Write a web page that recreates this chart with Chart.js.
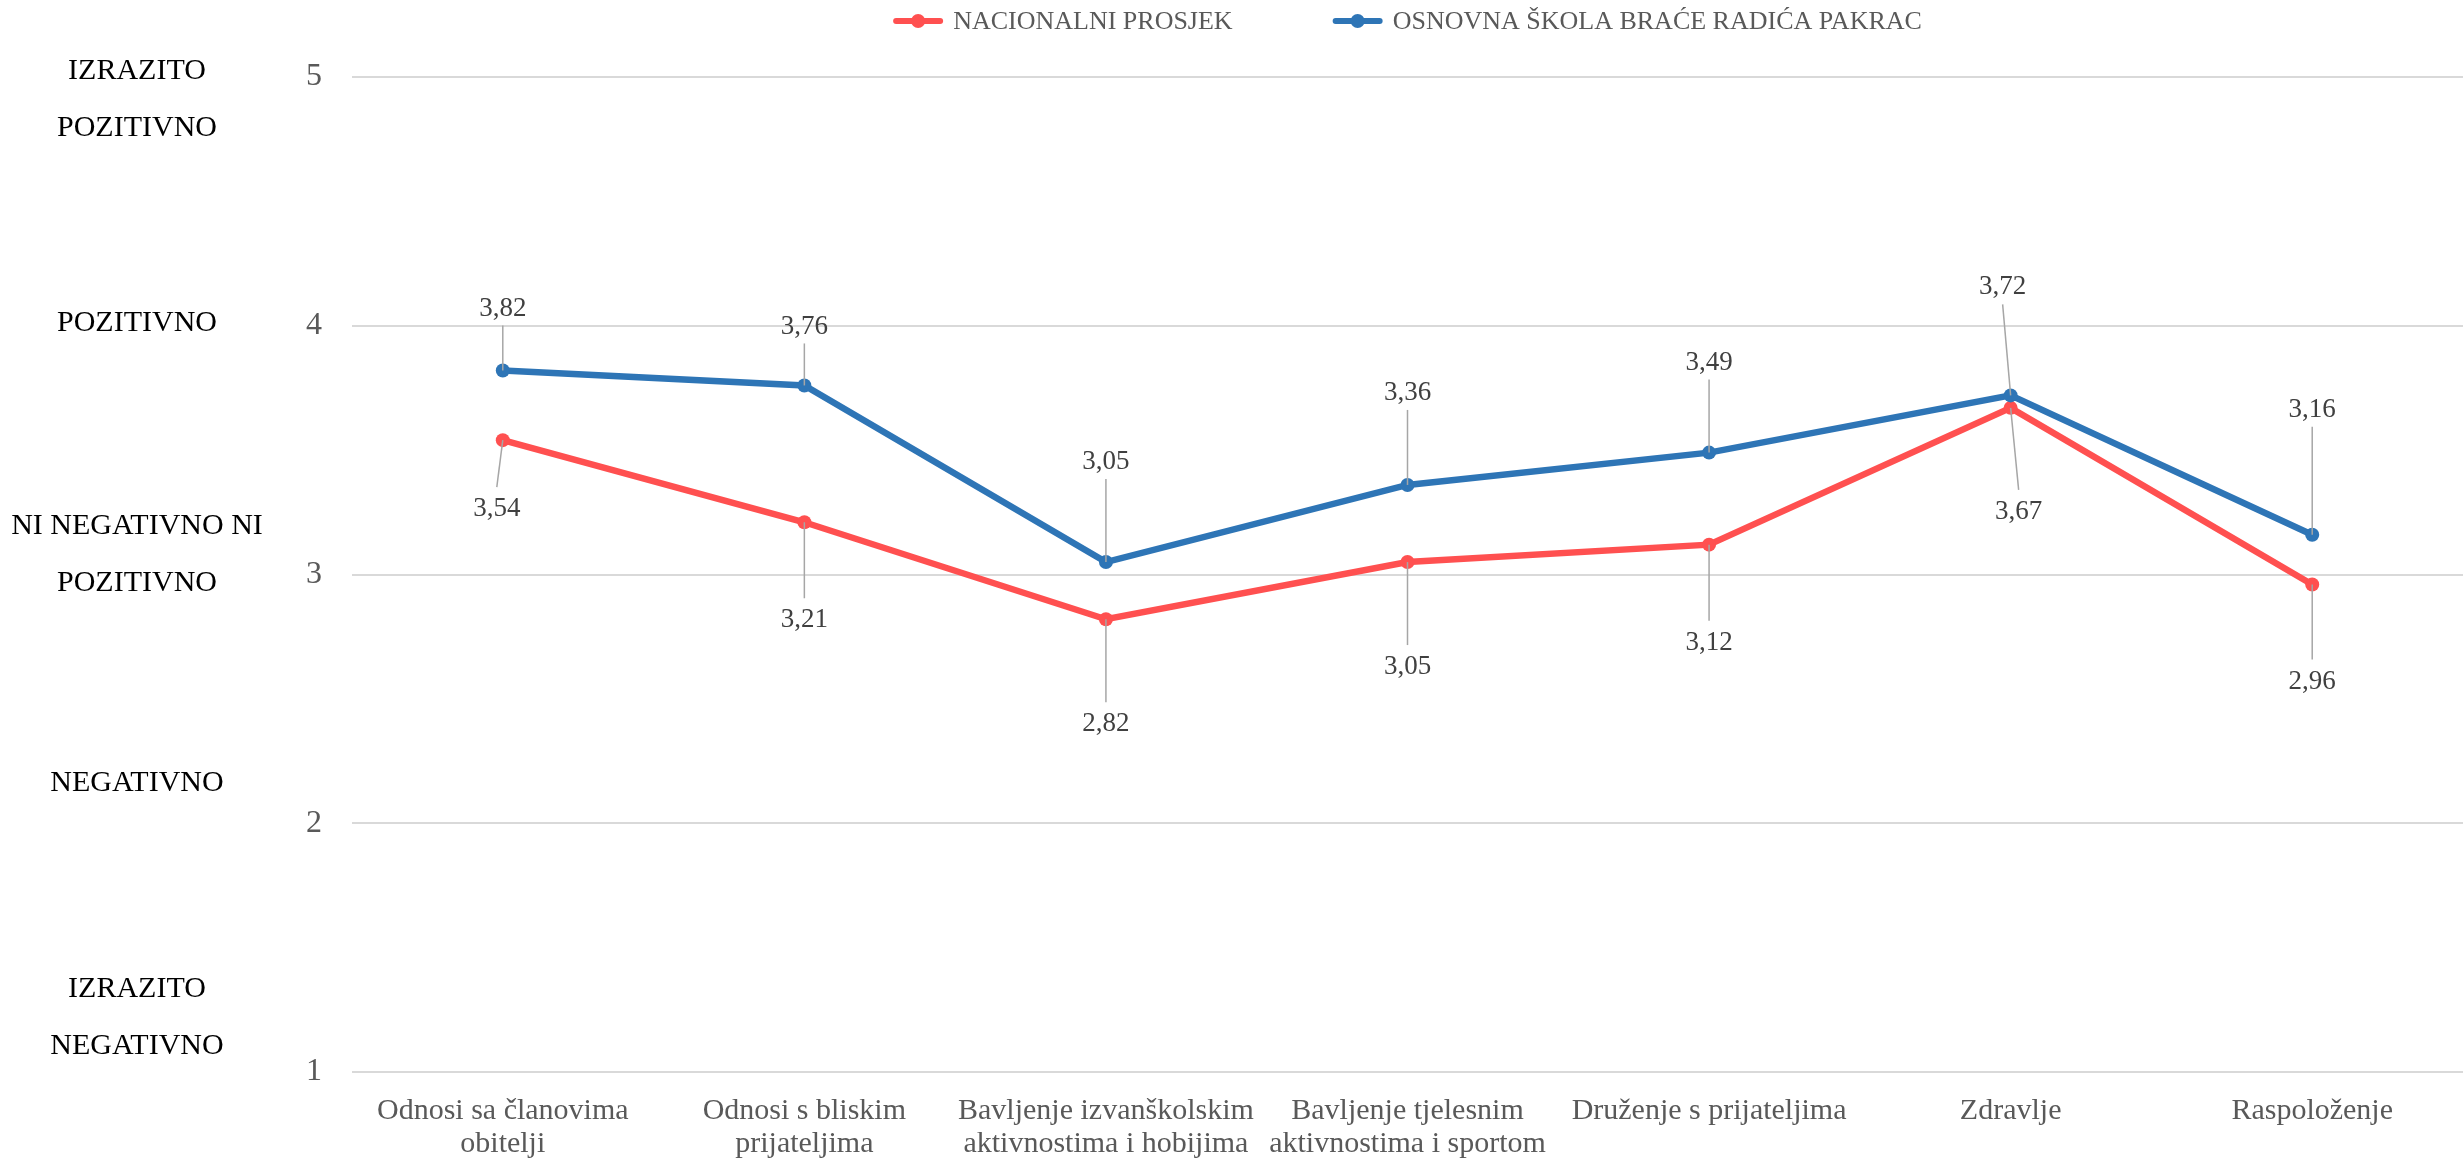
<!DOCTYPE html>
<html><head><meta charset="utf-8">
<script src="https://cdn.jsdelivr.net/npm/chart.js@4.4.1/dist/chart.umd.min.js"></script>
<style>html,body{margin:0;padding:0;background:#fff;overflow:hidden}#wrap{width:2463px;height:1158px}</style>
</head><body><div id="wrap"><canvas id="c" width="2463" height="1158"></canvas></div>
<script>
const categories = [["Odnosi sa članovima","obitelji"],["Odnosi s bliskim","prijateljima"],["Bavljenje izvanškolskim","aktivnostima i hobijima"],["Bavljenje tjelesnim","aktivnostima i sportom"],"Druženje s prijateljima","Zdravlje","Raspoloženje"];
const seriesNames = ["NACIONALNI PROSJEK","OSNOVNA ŠKOLA BRAĆE RADIĆA PAKRAC"];
const nacionalniProsjek = [3.54,3.21,2.82,3.05,3.12,3.67,2.96];
const skolaPakrac = [3.82,3.76,3.05,3.36,3.49,3.72,3.16];
const yMin = 1, yMax = 5, yStep = 1;
const scaleLabels = [["IZRAZITO","POZITIVNO"],["POZITIVNO"],["NI NEGATIVNO NI","POZITIVNO"],["NEGATIVNO"],["IZRAZITO","NEGATIVNO"]];
const scaleLabelAt = [4.91,4.01,3.08,2.16,1.22];

// layout of value labels (pixel offsets from points)
const labelDy = [[68,97,104,104,97,103,96],[-63,-60,-101,-93,-91,-109,-126]];
const labelDx = [[-6,0,0,0,0,8,0],[0,0,0,0,0,-8,0]];
const colors = ['#FF5050','#2E75B6'];
const FONT = "'Liberation Serif','Times New Roman',serif";
const fmt = v => v.toFixed(2).replace('.', ',');

const annot = {
  id: 'annot',
  afterDatasetsDraw(chart) {
    const ctx = chart.ctx;
    ctx.save();
    ctx.font = '27px ' + FONT;
    ctx.textAlign = 'center';
    ctx.textBaseline = 'middle';
    chart.data.datasets.forEach((ds, di) => {
      const meta = chart.getDatasetMeta(di);
      meta.data.forEach((pt, i) => {
        const lx = pt.x + labelDx[di][i], ly = pt.y + labelDy[di][i];
        const below = labelDy[di][i] > 0;
        ctx.strokeStyle = '#A6A6A6';
        ctx.lineWidth = 1.5;
        ctx.beginPath();
        ctx.moveTo(pt.x, pt.y);
        ctx.lineTo(lx, below ? ly - 21 : ly + 18);
        ctx.stroke();
        ctx.fillStyle = '#404040';
        ctx.fillText(fmt(ds.data[i]), lx, ly + 1);
      });
    });
    ctx.restore();
  },
  afterDraw(chart) {
    const ctx = chart.ctx, ys = chart.scales.y, ca = chart.chartArea;
    ctx.save();
    // left descriptive labels
    ctx.font = '30px ' + FONT;
    ctx.fillStyle = '#000000';
    ctx.textAlign = 'center';
    ctx.textBaseline = 'middle';
    const lh = 57;
    scaleLabels.forEach((lines, k) => {
      const cy = ys.getPixelForValue(scaleLabelAt[k]);
      const start = cy - (lines.length - 1) * lh / 2;
      lines.forEach((t, j) => ctx.fillText(t, 137, start + j * lh));
    });
    // legend
    ctx.font = '26px ' + FONT;
    const mw = 50, gap = 10, sep = 100;
    const widths = seriesNames.map(n => mw + gap + ctx.measureText(n).width);
    const total = widths.reduce((a, b) => a + b, 0) + sep * (seriesNames.length - 1);
    let x = (ca.left + ca.right) / 2 - total / 2;
    const y = 21;
    seriesNames.forEach((n, i) => {
      ctx.strokeStyle = colors[i];
      ctx.lineWidth = 6;
      ctx.lineCap = 'round';
      ctx.beginPath(); ctx.moveTo(x + 3, y); ctx.lineTo(x + mw - 3, y); ctx.stroke();
      ctx.fillStyle = colors[i];
      ctx.beginPath(); ctx.arc(x + mw / 2, y, 7, 0, Math.PI * 2); ctx.fill();
      ctx.fillStyle = '#595959';
      ctx.textAlign = 'left';
      ctx.fillText(n, x + mw + gap, y + 1);
      x += widths[i] + sep;
    });
    ctx.restore();
  }
};

new Chart(document.getElementById('c'), {
  type: 'line',
  data: {
    labels: categories,
    datasets: [
      { label: seriesNames[0], data: nacionalniProsjek, borderColor: colors[0], backgroundColor: colors[0],
        pointBackgroundColor: colors[0], pointBorderWidth: 0, pointRadius: 7, borderWidth: 6.5, tension: 0, order: 1 },
      { label: seriesNames[1], data: skolaPakrac, borderColor: colors[1], backgroundColor: colors[1],
        pointBackgroundColor: colors[1], pointBorderWidth: 0, pointRadius: 7, borderWidth: 6.5, tension: 0, order: 0 }
    ]
  },
  options: {
    responsive: false,
    animation: false,
    devicePixelRatio: 1,
    layout: { autoPadding: false, padding: { top: 77, left: 0, right: 0, bottom: 0 } },
    plugins: { legend: { display: false }, tooltip: { enabled: false } },
    scales: {
      x: {
        offset: true,
        grid: { display: false },
        border: { display: false },
        ticks: { autoSkip: false, maxRotation: 0, minRotation: 0, color: '#595959', padding: 14,
          font: { family: FONT, size: 30, lineHeight: 1.12 } },
        afterFit(s) { s.height = 86; }
      },
      y: {
        min: yMin, max: yMax,
        grid: { color: '#D9D9D9', lineWidth: 2, drawTicks: false },
        border: { display: false },
        ticks: { stepSize: yStep, color: '#595959', padding: 30, font: { family: FONT, size: 32 } },
        afterFit(s) { s.width = 352; }
      }
    }
  },
  plugins: [annot]
});
</script>
</body></html>
